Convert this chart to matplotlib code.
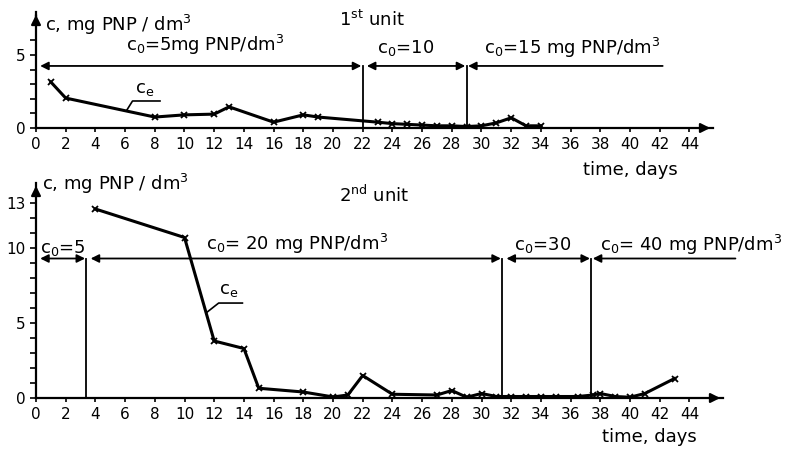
import matplotlib
matplotlib.use("Agg")
from matplotlib import pyplot as plt
import numpy as np

# 1st unit: effluent concentration c_e
days_1 = [1, 2, 8, 10, 12, 13, 16, 18, 19, 23, 24, 25, 26, 27, 28, 29, 30, 31, 32, 33, 34]
ce_1 = [3.15, 2.05, 0.75, 0.9, 0.95, 1.45, 0.4, 0.9, 0.75, 0.4, 0.3, 0.25, 0.2,
        0.15, 0.15, 0.1, 0.15, 0.35, 0.7, 0.15, 0.15]
switch_1 = [22, 29]
c0_level_1 = 4.25
c0_labels_1 = [r"c$_0$=5mg PNP/dm$^3$", r"c$_0$=10", r"c$_0$=15 mg PNP/dm$^3$"]

# 2nd unit
days_2 = [4, 10, 12, 14, 15, 18, 20, 21, 22, 24, 27, 28, 29, 30, 31, 32, 33, 34,
          35, 36.5, 37.5, 38, 39, 40, 41, 43]
ce_2 = [12.6, 10.7, 3.8, 3.3, 0.65, 0.4, 0.07, 0.2, 1.5, 0.25, 0.2, 0.5, 0.05, 0.3,
        0.1, 0.1, 0.1, 0.1, 0.1, 0.1, 0.2, 0.3, 0.1, 0.05, 0.3, 1.3]
switch_2 = [3.4, 31.4, 37.4]
c0_level_2 = 9.3
c0_labels_2 = [r"c$_0$=5", r"c$_0$= 20 mg PNP/dm$^3$", r"c$_0$=30", r"c$_0$= 40 mg PNP/dm$^3$"]

W, H = 787, 451
fig = plt.figure(figsize=(W / 100, H / 100), dpi=100)
plt.rcParams["font.family"] = "DejaVu Sans"
FS = 12


def px_axes(left, top, right, bottom):
    return fig.add_axes([left / W, 1 - bottom / H, (right - left) / W, (bottom - top) / H])


def style_axes(ax, xmax, ymax, yticks, ymajor):
    ax.set_xlim(0, xmax)
    ax.set_ylim(0, ymax)
    for s in ["top", "right"]:
        ax.spines[s].set_visible(False)
    for s in ["left", "bottom"]:
        ax.spines[s].set_linewidth(1.6)
    ax.set_xticks(np.arange(0, 45, 2))
    ax.set_yticks(ymajor)
    ax.set_yticks(yticks, minor=True)
    ax.tick_params(axis="both", which="both", direction="out", length=4, width=1.2,
                   labelsize=FS - 1)
    ax.tick_params(axis="x", length=3)
    # axis arrows
    ax.annotate("", xy=(1, 0), xytext=(0.98, 0), xycoords="axes fraction",
                arrowprops=dict(arrowstyle="-|>", color="k", lw=1.6, mutation_scale=14))
    ax.annotate("", xy=(0, 1), xytext=(0, 0.95), xycoords="axes fraction",
                arrowprops=dict(arrowstyle="-|>", color="k", lw=1.6, mutation_scale=14))


def c0_line(ax, level, edges, end):
    bounds = [0] + edges
    for a, b in zip(bounds[:-1], bounds[1:]):
        ax.annotate("", xy=(b, level), xytext=(a, level), annotation_clip=False,
                    arrowprops=dict(arrowstyle="<|-|>", color="k", lw=1.3,
                                    mutation_scale=12, shrinkA=3, shrinkB=1))
    ax.annotate("", xy=(end, level), xytext=(edges[-1], level), annotation_clip=False,
                arrowprops=dict(arrowstyle="<|-", color="k", lw=1.3,
                                mutation_scale=12, shrinkA=1, shrinkB=0))
    for e in edges:
        ax.plot([e, e], [0, level], color="k", lw=1.3)


# ---- top panel ----
ax1 = px_axes(36, 12, 713, 128)
style_axes(ax1, (713 - 36) / 14.85, (128 - 12) / 14.6, np.arange(0, 7), [0, 5])
ax1.plot(days_1, ce_1, color="k", lw=2.2, marker="x", ms=5, mew=1.3)
c0_line(ax1, c0_level_1, switch_1, 42.2)
ax1.text(0.6, 7.05, r"c, mg PNP / dm$^3$", fontsize=FS + 1, va="center")
ax1.text(22.6, 7.4, r"1$^{\mathrm{st}}$ unit", fontsize=FS + 1, ha="center", va="center")
ax1.text(11.4, 5.7, c0_labels_1[0], fontsize=FS + 1, ha="center", va="center")
ax1.text(24.9, 5.5, c0_labels_1[1], fontsize=FS + 1, ha="center", va="center")
ax1.text(36.1, 5.5, c0_labels_1[2], fontsize=FS + 1, ha="center", va="center")
ax1.text(40.0, -2.9, "time, days", fontsize=FS + 1, ha="center", va="center")
ax1.text(7.3, 2.65, r"c$_\mathrm{e}$", fontsize=FS + 1, ha="center", va="center")
ax1.plot([8.35, 6.5, 6.1], [1.85, 1.85, 1.2], color="k", lw=1.2)

# ---- bottom panel ----
ax2 = px_axes(36, 183, 723, 398)
style_axes(ax2, (723 - 36) / 14.85, (398 - 183) / 15, np.arange(0, 14), [0, 5, 10, 13])
ax2.plot(days_2, ce_2, color="k", lw=2.2, marker="x", ms=5, mew=1.3)
c0_line(ax2, c0_level_2, switch_2, 47.1)
ax2.text(0.4, 14.3, r"c, mg PNP / dm$^3$", fontsize=FS + 1, va="center")
ax2.text(22.8, 13.5, r"2$^{\mathrm{nd}}$ unit", fontsize=FS + 1, ha="center", va="center")
ax2.text(1.8, 10.0, c0_labels_2[0], fontsize=FS + 1, ha="center", va="center")
ax2.text(17.6, 10.3, c0_labels_2[1], fontsize=FS + 1, ha="center", va="center")
ax2.text(34.1, 10.2, c0_labels_2[2], fontsize=FS + 1, ha="center", va="center")
ax2.text(44.1, 10.2, c0_labels_2[3], fontsize=FS + 1, ha="center", va="center")
ax2.text(41.3, -2.6, "time, days", fontsize=FS + 1, ha="center", va="center")
ax2.text(13.0, 7.2, r"c$_\mathrm{e}$", fontsize=FS + 1, ha="center", va="center")
ax2.plot([13.9, 12.3, 11.45], [6.33, 6.33, 5.67], color="k", lw=1.2)

fig.savefig("out.png", dpi=100)
